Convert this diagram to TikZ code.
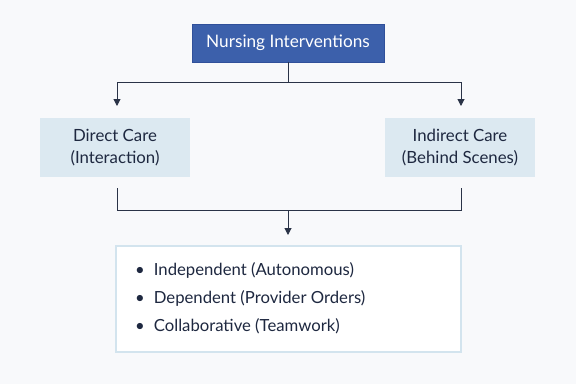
\documentclass[tikz,border=0pt]{standalone}
\usepackage{fontspec}
\setmainfont{Lato}
\usetikzlibrary{arrows.meta}
\definecolor{bg}{HTML}{F8F9FB}
\definecolor{topfill}{HTML}{3C60AB}
\definecolor{topdraw}{HTML}{30509A}
\definecolor{sidefill}{HTML}{DCE9F1}
\definecolor{listdraw}{HTML}{D3E4EE}
\definecolor{ink}{HTML}{1E2840}
\definecolor{wire}{HTML}{2A3347}
\begin{document}
\begin{tikzpicture}[x=1pt,y=-1pt,
  topbox/.style={draw=topdraw,fill=topfill,text=white,minimum width=192pt,minimum height=38pt,inner sep=0pt,font=\fontsize{17.2}{20}\selectfont},
  sidebox/.style={fill=sidefill,text=ink,minimum width=150pt,minimum height=59pt,inner sep=0pt,align=center,font=\fontsize{16.8}{22}\selectfont},
  listbox/.style={draw=listdraw,line width=2pt,fill=white,minimum width=345pt,minimum height=106pt,inner sep=0pt},
  item/.style={text=ink,anchor=west,inner sep=0pt,font=\fontsize{16.7}{20}\selectfont},
  wire/.style={draw=wire,line width=1pt},
  arr/.style={wire,-{Triangle[length=7pt,width=7pt]}}]
\fill[bg] (0,0) rectangle (576,384);
\useasboundingbox (0,0) rectangle (576,384);
\node[topbox] (top) at (288,43) {Nursing Interventions};
\node[sidebox] (direct) at (115,147.5) {Direct Care\\(Interaction)};
\node[sidebox] (indirect) at (460,147.5) {Indirect Care\\(Behind Scenes)};
\node[listbox] (list) at (288.5,299) {};
\coordinate (j1) at (288,82);
\coordinate (dl) at (117,82);
\coordinate (dr) at (461,82);
\coordinate (dlt) at (117,106);
\coordinate (drt) at (461,106);
\draw[wire] (top.south) -- (j1);
\draw[wire] (dl) -- (dr);
\draw[arr] (dl) -- (dlt);
\draw[arr] (dr) -- (drt);
\coordinate (bl0) at (117,188);
\coordinate (br0) at (461,188);
\coordinate (bl) at (117,210);
\coordinate (br) at (461,210);
\coordinate (bm) at (288,210);
\coordinate (bmt) at (288,235);
\draw[wire] (bl0) -- (bl) -- (br) -- (br0);
\draw[arr] (bm) -- (bmt);
\node[item] (i1) at (135,270) {•\hspace{9pt}Independent (Autonomous)};
\node[item] (i2) at (135,298) {•\hspace{9pt}Dependent (Provider Orders)};
\node[item] (i3) at (135,326) {•\hspace{9pt}Collaborative (Teamwork)};
\end{tikzpicture}
\end{document}
